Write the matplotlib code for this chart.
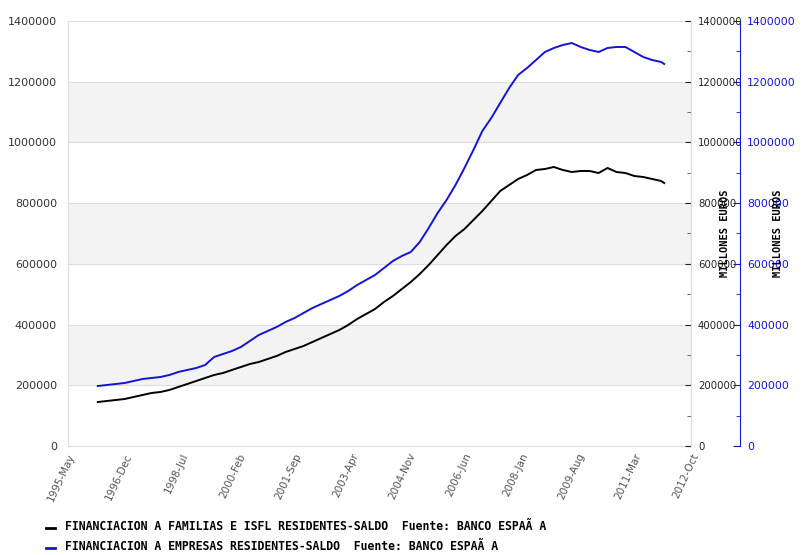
import pandas as pd
import matplotlib.pyplot as plt

# fechas trimestrales (primer mes 1996-Mar), valores en millones de euros
fechas = list(pd.date_range('1996-03-01', '2011-12-01', freq='3MS')) + [pd.Timestamp('2012-01-01')]

familias = [144900, 148200, 151500, 154800, 161400, 168000, 174600, 177900, 184500, 194400,
            204200, 214100, 224000, 233900, 240500, 250400, 260200, 270100, 276700, 286600,
            296500, 309600, 319500, 329400, 342600, 355800, 368900, 382100, 398600, 418400,
            434800, 451300, 474400, 494100, 517200, 540200, 566600, 596200, 629200, 662100,
            691800, 714800, 744500, 774100, 807000, 840000, 859800, 879500, 892700, 909200,
            912500, 919100, 909200, 902600, 905900, 905900, 899300, 915800, 902600, 899300,
            889400, 886100, 879500, 872900, 866400]

empresas = [197600, 200900, 204200, 207500, 214100, 220700, 224000, 227300, 233900, 243800,
            250400, 256900, 266800, 293200, 303100, 312900, 326100, 345900, 365600, 378800,
            392000, 408500, 421600, 438100, 454600, 467800, 480900, 494100, 510600, 530400,
            546800, 563300, 586400, 609400, 625900, 639100, 672000, 718100, 767500, 810400,
            859800, 915800, 975100, 1037600, 1080500, 1129900, 1179300, 1222100, 1245200, 1271500,
            1297900, 1311100, 1320900, 1327500, 1314400, 1304500, 1297900, 1311100, 1314400, 1314400,
            1297900, 1281400, 1271500, 1264900, 1258400]

etiquetas_x = ['1995-May', '1996-Dec', '1998-Jul', '2000-Feb', '2001-Sep', '2003-Apr',
               '2004-Nov', '2006-Jun', '2008-Jan', '2009-Aug', '2011-Mar', '2012-Oct']

serie1 = 'FINANCIACION A FAMILIAS E ISFL RESIDENTES-SALDO  Fuente: BANCO ESPAÃ A'
serie2 = 'FINANCIACION A EMPRESAS RESIDENTES-SALDO  Fuente: BANCO ESPAÃ A'

origen = pd.Timestamp('1995-05-01')
def meses(d):
    return (d.year - origen.year) * 12 + d.month - origen.month

x = [meses(d) for d in fechas]
xt = [meses(pd.Timestamp(e)) for e in etiquetas_x]

azul = '#1414d2'
fig = plt.figure(figsize=(8.05, 5.55), dpi=100)
ax = fig.add_axes([68/805, 1 - 446/555, 623/805, 425/555])

ymax = 1400000
yt = list(range(0, ymax + 1, 200000))
yt_lab = [str(v) for v in yt]
for i, lo in enumerate(range(0, ymax, 200000)):
    if i % 2 == 1:
        ax.axhspan(lo, lo + 200000, color='#f3f3f3', zorder=0, lw=0)
for v in range(200000, ymax, 200000):
    ax.axhline(v, color='#dddddd', lw=0.8, zorder=1)

ax.plot(x, familias, color='black', lw=1.4, zorder=3)
ax.plot(x, empresas, color=azul, lw=1.4, zorder=3)

ax.set_xlim(0, xt[-1])
ax.set_ylim(0, ymax)
ax.set_yticks(yt)
ax.set_yticklabels(yt_lab)
ax.tick_params(axis='y', length=0, labelsize=8, colors='#333333', pad=8)
ax.set_xticks(xt)
ax.set_xticklabels(etiquetas_x, rotation=65, ha='right', rotation_mode='anchor')
ax.tick_params(axis='x', length=0, labelsize=7.5, colors='#555555', pad=4)
for s in ax.spines.values():
    s.set_color('#dddddd')
    s.set_linewidth(0.8)

# eje derecho (negro)
ax2 = ax.twinx()
ax2.set_ylim(0, ymax)
ax2.set_yticks(yt)
ax2.set_yticklabels(yt_lab)
ax2.set_yticks(range(100000, ymax, 200000), minor=True)
ax2.tick_params(axis='y', which='major', length=4, direction='in', labelsize=7.3, colors='#222222', pad=5)
ax2.tick_params(axis='y', which='minor', length=3, direction='in', colors='#555555')
for k in ['top', 'left', 'bottom']:
    ax2.spines[k].set_visible(False)
ax2.spines['right'].set_color('#dddddd')
ax2.set_ylabel('MILLONES EUROS', fontsize=7.5, family='DejaVu Sans Mono', weight='bold')
ax2.yaxis.set_label_coords((720 - 68) / 623, 0.5)

# eje derecho (azul)
ax3 = ax.twinx()
ax3.set_ylim(0, ymax)
ax3.spines['right'].set_position(('outward', 49 * 72 / 100))
ax3.spines['right'].set_color(azul)
for k in ['top', 'left', 'bottom']:
    ax3.spines[k].set_visible(False)
ax3.set_yticks(yt)
ax3.set_yticklabels(yt_lab)
ax3.set_yticks(range(100000, ymax, 200000), minor=True)
ax3.tick_params(axis='y', which='major', length=5, direction='in', labelsize=7.8, colors=azul, pad=5)
ax3.tick_params(axis='y', which='minor', length=3, direction='in', colors=azul)
ax3.set_ylabel('MILLONES EUROS', fontsize=7.5, family='DejaVu Sans Mono', weight='bold', color='black')
ax3.yaxis.set_label_coords((773 - 68) / 623, 0.5)

# leyenda
fig.lines.append(plt.Line2D([46/805, 55/805], [1 - 528/555] * 2, color='black', lw=2, transform=fig.transFigure))
fig.lines.append(plt.Line2D([46/805, 55/805], [1 - 548/555] * 2, color=azul, lw=2, transform=fig.transFigure))
fig.text(65/805, 1 - 527/555, serie1, fontsize=8.3, family='DejaVu Sans Mono', weight='bold', va='center')
fig.text(65/805, 1 - 547/555, serie2, fontsize=8.3, family='DejaVu Sans Mono', weight='bold', va='center')

fig.savefig('out.png', dpi=100)
